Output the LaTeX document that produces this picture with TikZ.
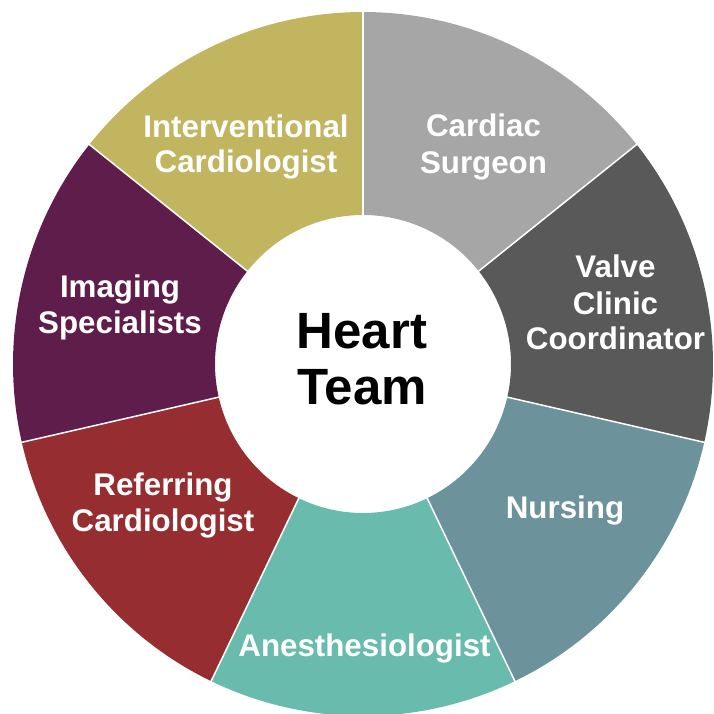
\documentclass[tikz,border=0pt]{standalone}
\usepackage{fontspec}
\setmainfont{Liberation Sans}
\definecolor{csurg}{HTML}{A6A6A6}
\definecolor{valve}{HTML}{595959}
\definecolor{nurse}{HTML}{6C939B}
\definecolor{anest}{HTML}{69BBAD}
\definecolor{refer}{HTML}{962D30}
\definecolor{imag}{HTML}{5F1D4B}
\definecolor{inter}{HTML}{C1B560}
\begin{document}
\begin{tikzpicture}[x=1pt,y=-1pt,
  lbl/.style={text=white,font=\bfseries\fontsize{31.3}{36}\selectfont,anchor=base,inner sep=0pt},
  hub/.style={text=black,font=\bfseries\fontsize{51}{56}\selectfont,anchor=base,inner sep=0pt},
  sep/.style={white,line width=1.5pt}]
\useasboundingbox (0,0) rectangle (713,714);
\coordinate (O) at (363,364);
\begin{scope}[shift={(363,364)}]
\foreach \i/\c in {0/csurg,1/valve,2/nurse,3/anest,4/refer,5/imag,6/inter}{
  \pgfmathsetmacro\a{-90+51.4285714*\i}
  \pgfmathsetmacro\b{\a+51.4285714}
  \fill[\c] ({350*cos(\a)},{352*sin(\a)}) arc[start angle=\a,end angle=\b,x radius=350,y radius=352]
    -- ({148*cos(\b)},{149*sin(\b)}) arc[start angle=\b,end angle=\a,x radius=148,y radius=149] -- cycle;
}
\foreach \i in {0,...,6}{
  \pgfmathsetmacro\a{-90+51.4285714*\i}
  \draw[sep] ({147*cos(\a)},{148*sin(\a)}) -- ({352*cos(\a)},{354*sin(\a)});
}
\end{scope}
\node[lbl] (cs1) at (483.5,136.7) {Cardiac};
\node[lbl] (cs2) at (483.5,173.2) {Surgeon};
\node[lbl] (vc1) at (615.5,277.8) {Valve};
\node[lbl] (vc2) at (615.5,314) {Clinic};
\node[lbl] (vc3) at (615.5,349.5) {Coordinator};
\node[lbl] (nu1) at (565,518) {Nursing};
\node[lbl] (an1) at (364.5,656.7) {Anesthesiologist};
\node[lbl] (rc1) at (163,495) {Referring};
\node[lbl] (rc2) at (163,531) {Cardiologist};
\node[lbl] (is1) at (120,297.7) {Imaging};
\node[lbl] (is2) at (120,333.3) {Specialists};
\node[lbl] (ic1) at (246,137.2) {Interventional};
\node[lbl] (ic2) at (246,172.8) {Cardiologist};
\node[hub] (ht1) at (362,348.3) {Heart};
\node[hub] (ht2) at (362,404) {Team};
\end{tikzpicture}
\end{document}
